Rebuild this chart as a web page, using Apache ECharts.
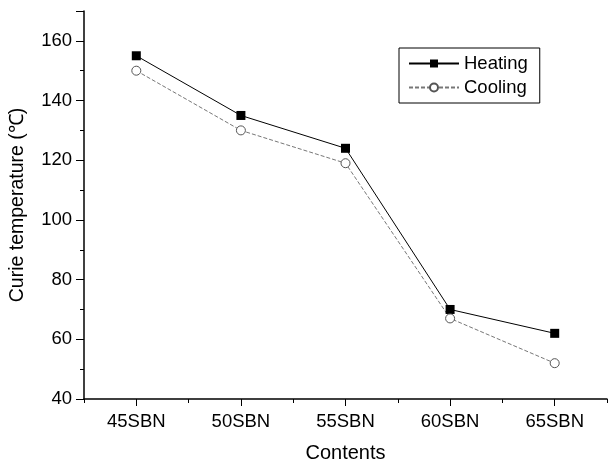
<!DOCTYPE html>
<html>
<head>
<meta charset="utf-8">
<script src="https://cdn.jsdelivr.net/npm/echarts@6/dist/echarts.min.js"></script>
<style>html,body{margin:0;padding:0;background:#fff;}#c{width:608px;height:465px;}</style>
</head>
<body>
<div id="c"></div>
<script>
const categories = ['45SBN', '50SBN', '55SBN', '60SBN', '65SBN'];
const heating = [155, 135, 124, 70, 62];
const cooling = [150, 130, 119, 67, 52];
const yTicks = { min: 40, max: 170, interval: 20 };

const font = "'Liberation Sans', Arial, sans-serif";
const chart = echarts.init(document.getElementById('c'), null, { renderer: 'canvas' });
chart.setOption({
  animation: false,
  backgroundColor: '#fff',
  textStyle: { fontFamily: font },
  grid: { left: 84, right: 1, top: 11, bottom: 66, outerBoundsMode: 'none', containLabel: false },
  legend: {
    orient: 'vertical',
    left: 399, top: 48,
    borderColor: '#000', borderWidth: 1,
    padding: [6, 12, 6, 9],
    itemGap: 5,
    itemWidth: 50, itemHeight: 10,
    textStyle: { fontFamily: font, fontSize: 18.5, color: '#000', lineHeight: 19 },
    data: ['Heating', 'Cooling']
  },
  xAxis: [{
    type: 'category',
    data: categories,
    boundaryGap: true,
    name: 'Contents',
    nameLocation: 'middle',
    nameGap: 44,
    nameTextStyle: { fontFamily: font, fontSize: 20, color: '#000' },
    axisLine: { lineStyle: { color: '#000', width: 1.5 } },
    axisTick: { show: true, length: 4, lineStyle: { color: '#000' } },
    axisLabel: { fontFamily: font, fontSize: 18.5, color: '#000', margin: 13 },
    splitLine: { show: false }
  }, {
    type: 'category',
    data: categories,
    boundaryGap: true,
    position: 'bottom',
    axisLine: { show: false },
    axisTick: { show: true, alignWithLabel: true, length: 7, lineStyle: { color: '#000' } },
    axisLabel: { show: false },
    splitLine: { show: false }
  }],
  yAxis: {
    type: 'value',
    min: yTicks.min, max: yTicks.max, interval: yTicks.interval,
    name: 'Curie temperature (℃)',
    nameLocation: 'middle',
    nameGap: 56,
    nameTextStyle: { fontFamily: font, fontSize: 19.5, color: '#000' },
    axisLine: { show: true, lineStyle: { color: '#000', width: 1.5 } },
    axisTick: { show: true, length: 8, lineStyle: { color: '#000' } },
    minorTick: { show: true, splitNumber: 2, length: 4, lineStyle: { color: '#000' } },
    axisLabel: { fontFamily: font, fontSize: 18.5, color: '#000', margin: 12,
      formatter: v => (v === 170 ? '' : v) },
    splitLine: { show: false }
  },
  series: [{
    name: 'Heating',
    type: 'line',
    data: heating,
    symbol: 'rect',
    symbolSize: 9,
    itemStyle: { color: '#000' },
    lineStyle: { color: '#000', width: 1 }
  }, {
    name: 'Cooling',
    type: 'line',
    data: cooling,
    symbol: 'circle',
    symbolSize: 9,
    itemStyle: { color: '#fff', borderColor: '#555', borderWidth: 1 },
    lineStyle: { color: '#777', width: 1, type: [4, 2] }
  }]
});
</script>
</body>
</html>
